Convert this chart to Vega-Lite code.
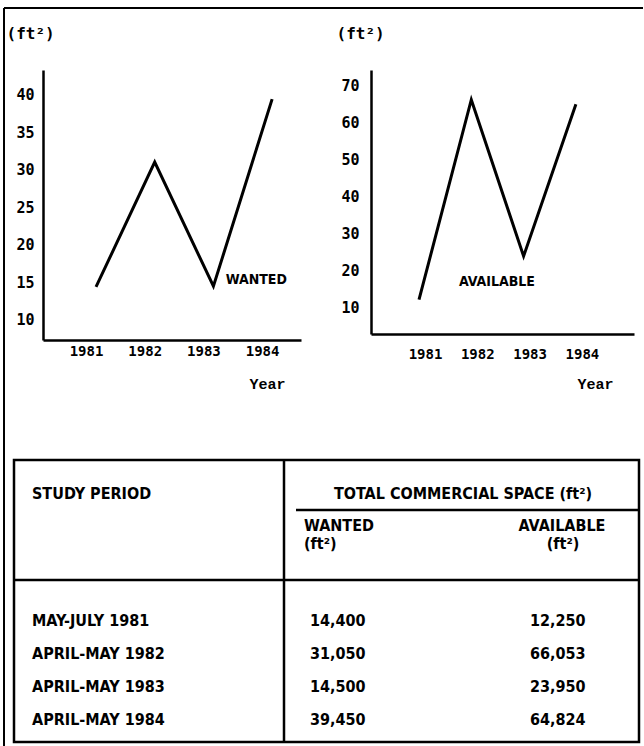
{
  "$schema": "https://vega.github.io/schema/vega-lite/v6.json",
  "background": "white",
  "padding": {"left": 3, "top": 7, "right": 0, "bottom": 0},
  "config": {
    "view": {"stroke": null},
    "axis": {
      "domainColor": "black",
      "domainWidth": 2.5,
      "ticks": false,
      "grid": false,
      "labelColor": "black",
      "titleColor": "black",
      "labelFont": "DejaVu Sans Mono",
      "labelFontWeight": "bold",
      "titleFontWeight": "bold"
    },
    "text": {"color": "black"}
  },
  "datasets": {
    "space": [
      {"period": "MAY-JULY 1981", "year": 1981, "wanted": 14400, "available": 12250},
      {"period": "APRIL-MAY 1982", "year": 1982, "wanted": 31050, "available": 66053},
      {"period": "APRIL-MAY 1983", "year": 1983, "wanted": 14500, "available": 23950},
      {"period": "APRIL-MAY 1984", "year": 1984, "wanted": 39450, "available": 64824}
    ]
  },
  "columns": 2,
  "bounds": "flush",
  "spacing": {"row": 120, "column": 70},
  "concat": [
    {
      "width": 258,
      "height": 270,
      "data": {"name": "space"},
      "layer": [
        {
          "mark": {"type": "line", "color": "black", "strokeWidth": 3},
          "encoding": {
            "x": {
              "field": "year", "type": "quantitative",
              "scale": {"domain": [1980.097, 1984.492], "nice": false, "zero": false},
              "axis": {
                "values": [1981, 1982, 1983, 1984], "format": "d",
                "labelFontSize": 14, "labelBaseline": "middle", "labelPadding": 11, "labelOffset": -10,
                "title": "Year", "titleFont": "Liberation Mono", "titleFontSize": 15,
                "titleX": 224, "titleY": 43, "titleAlign": "center", "titleBaseline": "middle"
              }
            },
            "y": {
              "field": "wanted", "type": "quantitative",
              "scale": {"domain": [7330, 43330], "nice": false, "zero": false},
              "axis": {
                "values": [10000, 15000, 20000, 25000, 30000, 35000, 40000],
                "labelExpr": "format(datum.value/1000, 'd')",
                "labelFontSize": 15, "labelPadding": 9,
                "title": "(ft²)", "titleFont": "DejaVu Sans Mono", "titleFontSize": 16,
                "titleAngle": 0, "titleAlign": "left", "titleBaseline": "middle",
                "titleX": -37, "titleY": -37
              }
            }
          }
        },
        {
          "data": {"values": [{}]},
          "mark": {"type": "text", "text": "WANTED", "font": "Liberation Sans Narrow, DejaVu Sans Condensed, sans-serif", "fontWeight": "bold", "fontSize": 14, "align": "center", "baseline": "middle"},
          "encoding": {
            "x": {"datum": 1983.73, "type": "quantitative"},
            "y": {"datum": 15330, "type": "quantitative"}
          }
        }
      ]
    },
    {
      "width": 263,
      "height": 264,
      "data": {"name": "space"},
      "layer": [
        {
          "mark": {"type": "line", "color": "black", "strokeWidth": 3},
          "encoding": {
            "x": {
              "field": "year", "type": "quantitative",
              "scale": {"domain": [1980.082, 1985.111], "nice": false, "zero": false},
              "axis": {
                "values": [1981, 1982, 1983, 1984], "format": "d",
                "labelFontSize": 14, "labelBaseline": "middle", "labelPadding": 20, "labelOffset": 6,
                "title": "Year", "titleFont": "Liberation Mono", "titleFontSize": 15,
                "titleX": 224, "titleY": 49, "titleAlign": "center", "titleBaseline": "middle"
              }
            },
            "y": {
              "field": "available", "type": "quantitative",
              "scale": {"domain": [3000, 74040], "nice": false, "zero": false},
              "axis": {
                "values": [10000, 20000, 30000, 40000, 50000, 60000, 70000],
                "labelExpr": "format(datum.value/1000, 'd')",
                "labelFontSize": 15, "labelPadding": 12,
                "title": "(ft²)", "titleFont": "DejaVu Sans Mono", "titleFontSize": 16,
                "titleAngle": 0, "titleAlign": "left", "titleBaseline": "middle",
                "titleX": -35, "titleY": -37
              }
            }
          }
        },
        {
          "data": {"values": [{}]},
          "mark": {"type": "text", "text": "AVAILABLE", "font": "Liberation Sans Narrow, DejaVu Sans Condensed, sans-serif", "fontWeight": "bold", "fontSize": 14, "align": "center", "baseline": "middle"},
          "encoding": {
            "x": {"datum": 1982.49, "type": "quantitative"},
            "y": {"datum": 17000, "type": "quantitative"}
          }
        }
      ]
    },
    {
      "width": 258,
      "height": 282,
      "data": {"name": "space"},
      "resolve": {"scale": {"y": "independent"}},
      "layer": [
        {
          "data": {"values": [{}]},
          "layer": [
            {
              "mark": {"type": "rect", "fillOpacity": 0, "stroke": "black", "strokeWidth": 2.5},
              "encoding": {
                "x": {"datum": 0, "type": "quantitative", "scale": {"domain": [29, 287], "nice": false, "zero": false}, "axis": null},
                "x2": {"datum": 625},
                "y": {"datum": 0, "type": "quantitative", "scale": {"domain": [0, 282], "reverse": true, "nice": false, "zero": false}, "axis": null},
                "y2": {"datum": 282}
              }
            },
            {
              "mark": {"type": "rule", "color": "black", "strokeWidth": 2},
              "encoding": {
                "x": {"datum": -10, "type": "quantitative"},
                "y": {"datum": -452, "type": "quantitative"},
                "y2": {"datum": 286}
              }
            },
            {
              "mark": {"type": "rule", "color": "black", "strokeWidth": 2},
              "encoding": {
                "x": {"datum": -10, "type": "quantitative"},
                "x2": {"datum": 629},
                "y": {"datum": -452, "type": "quantitative"}
              }
            },
            {
              "mark": {"type": "rule", "color": "black", "strokeWidth": 2.5},
              "encoding": {
                "x": {"datum": 270, "type": "quantitative"},
                "y": {"datum": 0, "type": "quantitative"},
                "y2": {"datum": 282}
              }
            },
            {
              "mark": {"type": "rule", "color": "black", "strokeWidth": 2.5},
              "encoding": {
                "x": {"datum": 0, "type": "quantitative"},
                "x2": {"datum": 625},
                "y": {"datum": 120, "type": "quantitative"}
              }
            },
            {
              "mark": {"type": "rule", "color": "black", "strokeWidth": 2.5},
              "encoding": {
                "x": {"datum": 282, "type": "quantitative"},
                "x2": {"datum": 625},
                "y": {"datum": 50, "type": "quantitative"}
              }
            },
            {
              "mark": {"type": "text", "text": "STUDY PERIOD", "font": "Liberation Sans Narrow, DejaVu Sans Condensed, sans-serif", "fontWeight": "bold", "fontSize": 16, "align": "left", "baseline": "middle"},
              "encoding": {"x": {"datum": 18, "type": "quantitative"}, "y": {"datum": 34, "type": "quantitative"}}
            },
            {
              "mark": {"type": "text", "text": "TOTAL COMMERCIAL SPACE  (ft²)", "font": "Liberation Sans Narrow, DejaVu Sans Condensed, sans-serif", "fontWeight": "bold", "fontSize": 16, "align": "center", "baseline": "middle"},
              "encoding": {"x": {"datum": 449, "type": "quantitative"}, "y": {"datum": 34, "type": "quantitative"}}
            },
            {
              "mark": {"type": "text", "text": "WANTED", "font": "Liberation Sans Narrow, DejaVu Sans Condensed, sans-serif", "fontWeight": "bold", "fontSize": 16, "align": "left", "baseline": "middle"},
              "encoding": {"x": {"datum": 290, "type": "quantitative"}, "y": {"datum": 66, "type": "quantitative"}}
            },
            {
              "mark": {"type": "text", "text": "(ft²)", "font": "Liberation Sans Narrow, DejaVu Sans Condensed, sans-serif", "fontWeight": "bold", "fontSize": 16, "align": "left", "baseline": "middle"},
              "encoding": {"x": {"datum": 290, "type": "quantitative"}, "y": {"datum": 84, "type": "quantitative"}}
            },
            {
              "mark": {"type": "text", "text": "AVAILABLE", "font": "Liberation Sans Narrow, DejaVu Sans Condensed, sans-serif", "fontWeight": "bold", "fontSize": 16, "align": "center", "baseline": "middle"},
              "encoding": {"x": {"datum": 548, "type": "quantitative"}, "y": {"datum": 66, "type": "quantitative"}}
            },
            {
              "mark": {"type": "text", "text": "(ft²)", "font": "Liberation Sans Narrow, DejaVu Sans Condensed, sans-serif", "fontWeight": "bold", "fontSize": 16, "align": "center", "baseline": "middle"},
              "encoding": {"x": {"datum": 549, "type": "quantitative"}, "y": {"datum": 84, "type": "quantitative"}}
            }
          ]
        },
        {
          "encoding": {
            "y": {"field": "year", "type": "quantitative", "axis": null,
                  "scale": {"domain": [1976.121, 1984.667], "reverse": true, "nice": false, "zero": false}}
          },
          "layer": [
            {
              "mark": {"type": "text", "font": "Liberation Sans Narrow, DejaVu Sans Condensed, sans-serif", "fontWeight": "bold", "fontSize": 16, "align": "left", "baseline": "middle"},
              "encoding": {"x": {"datum": 18, "type": "quantitative"}, "text": {"field": "period"}}
            },
            {
              "mark": {"type": "text", "font": "Liberation Sans Narrow, DejaVu Sans Condensed, sans-serif", "fontWeight": "bold", "fontSize": 16, "align": "left", "baseline": "middle"},
              "encoding": {"x": {"datum": 296, "type": "quantitative"}, "text": {"field": "wanted", "format": ","}}
            },
            {
              "mark": {"type": "text", "font": "Liberation Sans Narrow, DejaVu Sans Condensed, sans-serif", "fontWeight": "bold", "fontSize": 16, "align": "left", "baseline": "middle"},
              "encoding": {"x": {"datum": 516, "type": "quantitative"}, "text": {"field": "available", "format": ","}}
            }
          ]
        }
      ]
    }
  ]
}
